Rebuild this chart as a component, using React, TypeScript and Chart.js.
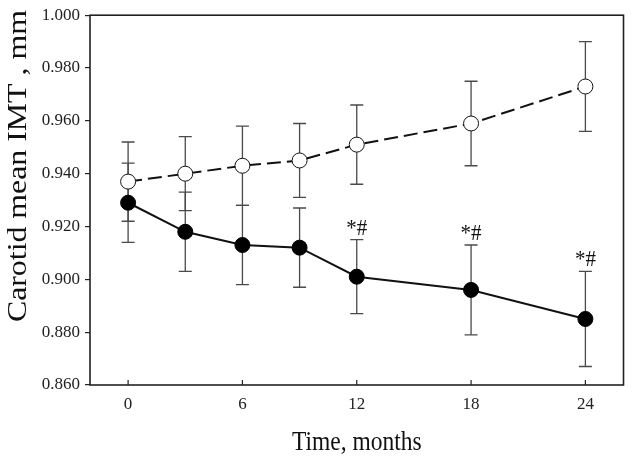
import React, { useEffect, useRef } from "react";
import { Chart, registerables } from "chart.js";

Chart.register(...registerables);

const months = [0, 3, 6, 9, 12, 18, 24];
const controlMean = [0.937, 0.94, 0.943, 0.945, 0.951, 0.959, 0.973];
const controlErr = [0.015, 0.014, 0.015, 0.014, 0.015, 0.016, 0.017];
const treatedMean = [0.929, 0.918, 0.913, 0.912, 0.901, 0.896, 0.885];
const treatedErr = [0.015, 0.015, 0.015, 0.015, 0.014, 0.017, 0.018];
const significance = ["", "", "", "", "*#", "*#", "*#"];
const xTicks = [0, 6, 12, 18, 24];
const yTicks = [0.86, 0.88, 0.9, 0.92, 0.94, 0.96, 0.98, 1.0];
const xTitle = "Time, months";
const yTitle = "Carotid mean IMT , mm";

const SERIF = "'Liberation Serif', 'Times New Roman', serif";

const errorBarPlugin = {
  id: "errorBars",
  beforeDatasetsDraw(chart: any) {
    const { ctx, scales } = chart;
    const xs = scales.x;
    const ys = scales.y;
    const sets = [
      { mean: controlMean, err: controlErr },
      { mean: treatedMean, err: treatedErr },
    ];
    ctx.save();
    ctx.strokeStyle = "#4a4a4a";
    ctx.lineWidth = 1.3;
    sets.forEach((s) => {
      months.forEach((m, i) => {
        const x = xs.getPixelForValue(m);
        const yTop = ys.getPixelForValue(s.mean[i] + s.err[i]);
        const yBot = ys.getPixelForValue(s.mean[i] - s.err[i]);
        ctx.beginPath();
        ctx.moveTo(x, yTop);
        ctx.lineTo(x, yBot);
        ctx.moveTo(x - 6.5, yTop);
        ctx.lineTo(x + 6.5, yTop);
        ctx.moveTo(x - 6.5, yBot);
        ctx.lineTo(x + 6.5, yBot);
        ctx.stroke();
      });
    });
    ctx.restore();
  },
  afterDraw(chart: any) {
    const { ctx, scales, chartArea } = chart;
    const xs = scales.x;
    const ys = scales.y;
    ctx.save();
    // frame
    ctx.strokeStyle = "#222";
    ctx.lineWidth = 1.6;
    ctx.strokeRect(chartArea.left, chartArea.top, chartArea.right - chartArea.left, chartArea.bottom - chartArea.top);
    // inward x ticks
    ctx.lineWidth = 1.2;
    xTicks.forEach((v) => {
      const x = xs.getPixelForValue(v);
      ctx.beginPath();
      ctx.moveTo(x, chartArea.bottom);
      ctx.lineTo(x, chartArea.bottom - 5);
      ctx.stroke();
    });
    // significance marks
    ctx.fillStyle = "#111";
    ctx.textAlign = "center";
    ctx.textBaseline = "alphabetic";
    significance.forEach((t, i) => {
      if (!t) return;
      const x = xs.getPixelForValue(months[i]);
      const y = ys.getPixelForValue(treatedMean[i] + treatedErr[i]);
      ctx.save();
      ctx.translate(x, y - 5);
      ctx.scale(1, 1.12);
      ctx.font = `21px ${SERIF}`;
      ctx.fillText(t, 0, 0);
      ctx.restore();
    });
    // x title
    ctx.save();
    ctx.translate((chartArea.left + chartArea.right) / 2, chart.height - 11);
    ctx.scale(1, 1.15);
    ctx.font = `23.5px ${SERIF}`;
    ctx.fillStyle = "#111";
    ctx.textAlign = "center";
    ctx.fillText(xTitle, 0, 0);
    ctx.restore();
    // y title
    ctx.save();
    const cy = chartArea.top + (chartArea.bottom - chartArea.top) * 0.408;
    ctx.translate(25.5, cy);
    ctx.rotate(-Math.PI / 2);
    ctx.font = `27px ${SERIF}`;
    const w = ctx.measureText(yTitle).width;
    ctx.scale(312 / w, 1);
    ctx.fillStyle = "#111";
    ctx.textAlign = "center";
    ctx.fillText(yTitle, 0, 0);
    ctx.restore();
    ctx.restore();
  },
};

export default function App() {
  const ref = useRef<HTMLCanvasElement>(null);
  useEffect(() => {
    document.body.style.margin = "0";
    const canvas = ref.current!;
    const chart = new Chart(canvas, {
      type: "line",
      data: {
        datasets: [
          {
            label: "Control",
            data: months.map((m, i) => ({ x: m, y: controlMean[i] })),
            borderColor: "#111",
            borderWidth: 2,
            borderDash: [14, 6],
            pointRadius: 7.5,
            pointBackgroundColor: "#fff",
            pointBorderColor: "#111",
            pointBorderWidth: 1,
            tension: 0,
            fill: false,
          },
          {
            label: "Treated",
            data: months.map((m, i) => ({ x: m, y: treatedMean[i] })),
            borderColor: "#111",
            borderWidth: 2,
            pointRadius: 7.5,
            pointBackgroundColor: "#000",
            pointBorderColor: "#000",
            pointBorderWidth: 1,
            tension: 0,
            fill: false,
          },
        ],
      },
      options: {
        responsive: false,
        animation: false,
        layout: { padding: { left: 0, right: 7, top: 12, bottom: 0 } },
        plugins: { legend: { display: false }, tooltip: { enabled: false } },
        scales: {
          x: {
            type: "linear",
            min: -2,
            max: 26,
            afterBuildTicks: (s: any) => {
              s.ticks = xTicks.map((v) => ({ value: v }));
            },
            afterFit: (s: any) => {
              s.height = 76;
            },
            grid: { display: false, drawTicks: false },
            border: { display: false },
            ticks: {
              padding: 9,
              color: "#222",
              font: { family: SERIF, size: 17 },
              callback: (v: any) => String(v),
            },
            title: { display: false },
          },
          y: {
            type: "linear",
            min: 0.86,
            max: 1.0,
            afterBuildTicks: (s: any) => {
              s.ticks = yTicks.map((v) => ({ value: v }));
            },
            afterFit: (s: any) => {
              s.width = 90;
            },
            grid: { drawOnChartArea: false, drawTicks: true, tickLength: 5, color: "#222", lineWidth: 1.2 },
            border: { display: false },
            ticks: {
              padding: 5,
              color: "#222",
              font: { family: SERIF, size: 17 },
              callback: (v: any) => Number(v).toFixed(3),
            },
            title: { display: false },
          },
        },
      } as any,
      plugins: [errorBarPlugin],
    });
    return () => chart.destroy();
  }, []);
  return (
    <div style={{ position: "fixed", left: 0, top: 0, width: 632, height: 461, background: "#fff" }}>
      <canvas ref={ref} width={632} height={461} style={{ width: 632, height: 461 }} />
    </div>
  );
}
